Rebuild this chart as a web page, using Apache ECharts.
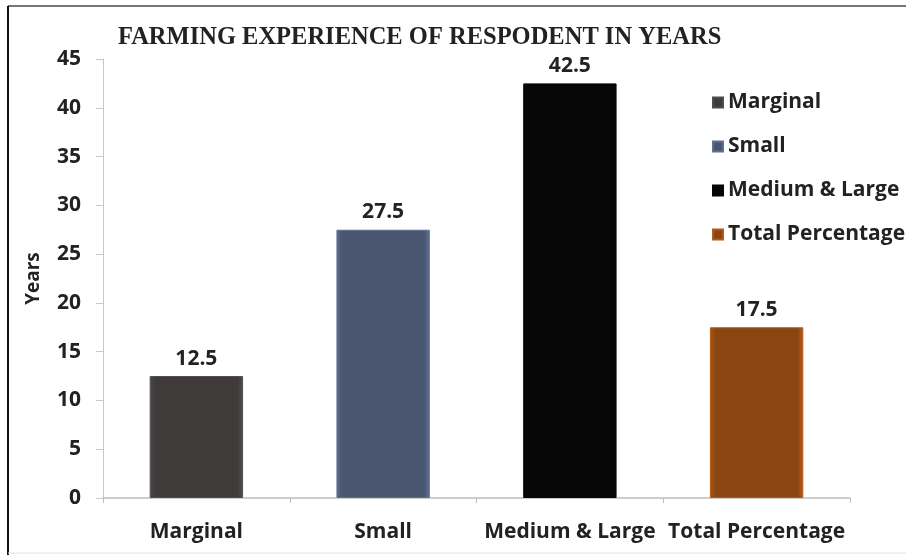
<!DOCTYPE html>
<html>
<head>
<meta charset="utf-8">
<script src="https://cdn.jsdelivr.net/npm/echarts@6/dist/echarts.min.js"></script>
<style>
  html, body { margin: 0; padding: 0; background: #fff; }
  #chart { width: 906px; height: 555px; }
</style>
</head>
<body>
<div id="chart"></div>
<script>
// Farming experience of respondents, by farm size group (years)
const categories = ['Marginal', 'Small', 'Medium & Large', 'Total Percentage'];
const values = [12.5, 27.5, 42.5, 17.5];
const barColors = ['#3f3b3b', '#4a5670', '#060606', '#8b4513'];
const yTicks = [0, 5, 10, 15, 20, 25, 30, 35, 40, 45];

const labelFont = '"Open Sans", Lato, sans-serif';

// One series per category so each gets its own legend entry;
// barGap -100% keeps every bar centred in its own slot.
const series = categories.map((name, i) => ({
  name: name,
  type: 'bar',
  barWidth: '50%',
  barGap: '-100%',
  data: categories.map((c, j) => (j === i ? values[i] : '-')),
  itemStyle: {
    color: {
      type: 'linear', x: 0, y: 0, x2: 1, y2: 0,
      colorStops: [
        { offset: 0, color: echarts.color.lift(barColors[i], -0.25) },
        { offset: 0.06, color: barColors[i] },
        { offset: 0.94, color: barColors[i] },
        { offset: 1, color: echarts.color.lift(barColors[i], -0.35) }
      ]
    },
    borderColor: echarts.color.lift(barColors[i], -0.3),
    borderWidth: 1
  },
  label: {
    show: true,
    position: 'top',
    distance: 7,
    color: '#222',
    fontFamily: labelFont,
    fontWeight: 'bold',
    fontSize: 21
  }
}));

const chart = echarts.init(document.getElementById('chart'), null, { renderer: 'canvas' });
chart.setOption({
  animation: false,
  backgroundColor: '#fff',
  title: {
    text: 'FARMING EXPERIENCE OF RESPODENT IN YEARS',
    left: 113,
    top: 20,
    textStyle: {
      fontFamily: '"Liberation Serif", "DejaVu Serif", serif',
      fontWeight: 'bold',
      fontSize: 24.5,
      color: '#222'
    }
  },
  legend: {
    orient: 'vertical',
    left: 707,
    top: 83,
    itemWidth: 10,
    itemHeight: 10,
    itemGap: 15,
    icon: 'rect',
    data: categories,
    textStyle: {
      fontFamily: labelFont,
      fontWeight: 'bold',
      fontSize: 21,
      lineHeight: 29,
      color: '#222',
      padding: [0, 0, 0, 0]
    }
  },
  grid: { left: 103, right: 56, top: 59, bottom: 57, containLabel: false },
  xAxis: {
    type: 'category',
    data: categories,
    axisLine: { lineStyle: { color: '#bdbdbd', width: 1.5 } },
    axisTick: { show: true, alignWithLabel: false, length: 5, lineStyle: { color: '#bdbdbd' } },
    axisLabel: {
      interval: 0,
      margin: 24,
      color: '#222',
      fontFamily: labelFont,
      fontWeight: 'bold',
      fontSize: 21
    }
  },
  yAxis: {
    type: 'value',
    min: yTicks[0],
    max: yTicks[yTicks.length - 1],
    interval: yTicks[1] - yTicks[0],
    name: 'Years',
    nameLocation: 'middle',
    nameGap: 60,
    nameRotate: 90,
    nameTextStyle: {
      fontFamily: labelFont,
      fontWeight: 'bold',
      fontSize: 19,
      color: '#222'
    },
    axisLine: { show: true, lineStyle: { color: '#c8c8c8', width: 1 } },
    axisTick: { show: true, length: 7, lineStyle: { color: '#c8c8c8' } },
    splitLine: { show: false },
    axisLabel: {
      margin: 22,
      color: '#222',
      fontFamily: labelFont,
      fontWeight: 'bold',
      fontSize: 21
    }
  },
  graphic: [
    { type: 'line', shape: { x1: 8, y1: 6, x2: 906, y2: 6 }, style: { stroke: '#777', lineWidth: 2 } },
    { type: 'line', shape: { x1: 8, y1: 6, x2: 8, y2: 555 }, style: { stroke: '#111', lineWidth: 2 } },
    { type: 'line', shape: { x1: 8, y1: 553, x2: 906, y2: 553 }, style: { stroke: '#e2e2e2', lineWidth: 1 } }
  ],
  series: series
});
</script>
</body>
</html>
